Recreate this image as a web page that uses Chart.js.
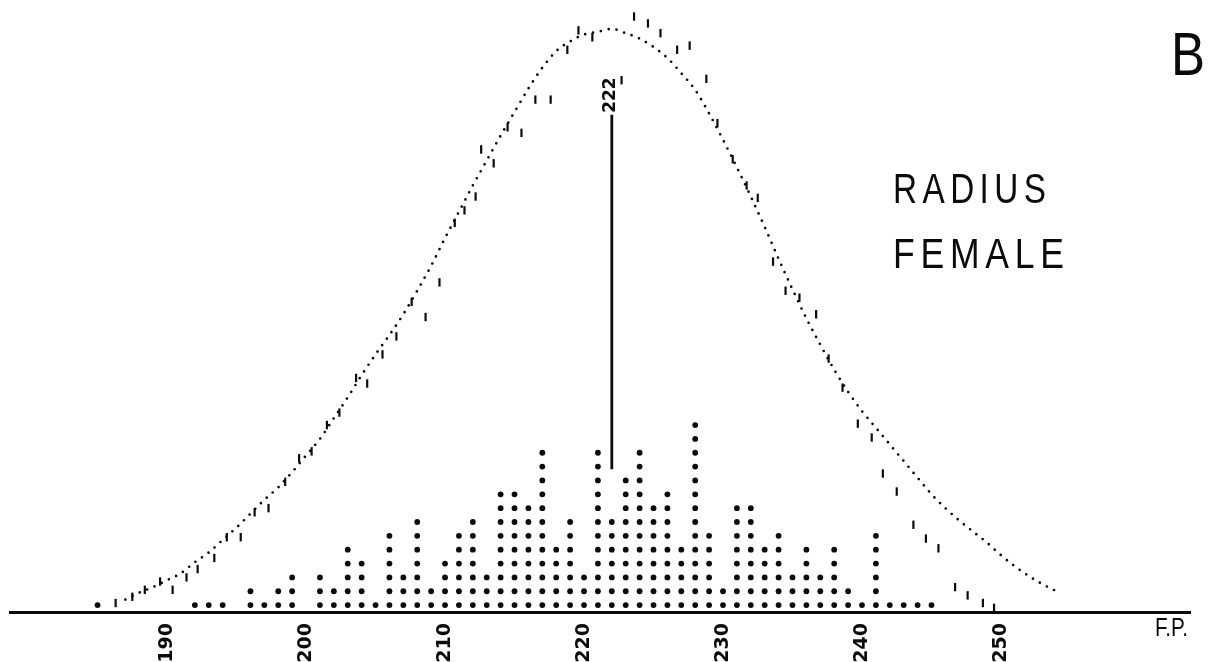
<!DOCTYPE html>
<html>
<head>
<meta charset="utf-8">
<script src="https://cdn.jsdelivr.net/npm/chart.js@4.4.1/dist/chart.umd.min.js"></script>
<style>
  html, body { margin: 0; padding: 0; background: #fff; }
  canvas { display: block; }
</style>
</head>
<body>
<canvas id="chart" width="1219" height="662"></canvas>
<script>
// Radius length (F.P.), females: number of specimens at each value, one dot each
const radiusValues = [185, 186, 187, 188, 189, 190, 191, 192, 193, 194, 195, 196, 197, 198, 199,
  200, 201, 202, 203, 204, 205, 206, 207, 208, 209, 210, 211, 212, 213, 214, 215, 216, 217, 218, 219,
  220, 221, 222, 223, 224, 225, 226, 227, 228, 229, 230, 231, 232, 233, 234, 235, 236, 237, 238, 239,
  240, 241, 242, 243, 244, 245];
const specimenCounts = [1, 0, 0, 0, 0, 0, 0, 1, 1, 1, 0, 2, 1, 2, 3,
  0, 3, 2, 5, 4, 1, 6, 3, 7, 2, 4, 6, 7, 3, 9, 9, 8, 12, 5, 7,
  3, 12, 7, 10, 12, 8, 9, 5, 14, 6, 2, 8, 8, 5, 6, 3, 5, 3, 5, 2,
  1, 6, 1, 1, 1, 1];

// Fitted frequency curve (dotted)
const curveValues = [187, 188, 189, 190, 191, 192, 193, 194, 195, 196, 197, 198, 199, 200, 201,
  202, 203, 204, 205, 206, 207, 208, 209, 210, 211, 212, 213, 214, 215, 216, 217, 218, 219, 220,
  221, 222, 223, 224, 225, 226, 227, 228, 229, 230, 231, 232, 233, 234, 235, 236, 237, 238, 239,
  240, 241, 242, 243, 244, 245, 246, 247, 248, 249, 250, 251, 252, 253, 254];
const curveHeights = [0.9, 1.4, 1.8, 2.3, 2.8, 3.6, 4.3, 5.2, 6.1, 7.1, 8.1, 9.0, 10.1, 11.3, 12.5,
  14.0, 15.5, 17.1, 18.6, 20.0, 21.5, 23.2, 25.0, 27.0, 28.9, 30.8, 32.6, 34.4, 36.1, 37.8, 39.3, 40.5, 41.2, 41.7,
  41.9, 42.1, 41.8, 41.4, 40.8, 40.0, 38.9, 37.7, 36.0, 34.1, 32.1, 30.0, 27.8, 25.5, 23.3, 21.2, 19.3, 17.5, 15.9,
  14.5, 13.3, 12.1, 10.9, 9.7, 8.5, 7.5, 6.6, 5.8, 5.0, 4.1, 3.3, 2.6, 2.0, 1.5];

// Short vertical strokes plotted along the curve
const strokeValues = [186.3, 187.5, 188.4, 189.5, 190.4, 191.4, 192.2, 193.4, 194.3, 195.3, 196.3, 197.3,
  198.5, 199.5, 200.4, 201.5, 202.4, 203.6, 204.4, 205.5, 206.5, 207.6, 208.6, 209.6, 210.7, 211.4,
  212.2, 212.6, 213.5, 214.5, 215.5, 216.5, 217.6, 218.8, 219.6, 220.6, 222.7, 223.6, 224.6, 225.5,
  226.7, 227.6, 228.8, 229.6, 230.7, 231.7, 232.5, 233.6, 234.5, 235.5, 236.7, 237.6, 238.6, 239.7,
  240.7, 241.5, 242.5, 243.7, 244.6, 245.5, 246.7, 247.6, 248.7, 249.5];
const strokeHeights = [0.65, 1.1, 1.6, 2.2, 1.6, 2.5, 3.1, 3.9, 5.4, 5.4, 7.2, 7.5,
  9.4, 11.1, 11.6, 13.5, 14.4, 16.9, 16.5, 18.6, 19.9, 22.4, 21.3, 23.8, 28.1, 29.0,
  30.0, 33.4, 32.4, 35.0, 34.6, 37.0, 37.0, 40.6, 42.0, 41.5, 38.4, 43.0, 42.5, 41.8,
  40.6, 40.9, 38.5, 35.3, 32.7, 30.8, 29.9, 25.3, 23.2, 22.7, 21.5, 18.3, 16.2, 13.6,
  12.6, 10.0, 8.7, 6.3, 5.3, 4.6, 1.8, 1.2, 0.65, 0.3];

// Mean and the span of its marker line
const meanValue = 222;
const meanLineSpan = [10.3, 35.9];

// Axis ticks
const tickValues = [190, 200, 210, 220, 230, 240, 250];
const tickLabels = ['190', '200', '210', '220', '230', '240', '250'];

const INK = '#0b0b0b';

// One dot per specimen, stacked in its column
const specimenDots = [];
radiusValues.forEach((v, i) => {
  for (let k = 1; k <= specimenCounts[i]; k++) specimenDots.push({ x: v, y: k - 0.5 });
});
const curvePoints = curveValues.map((v, i) => ({ x: v, y: curveHeights[i] }));
const strokePoints = strokeValues.map((v, i) => ({ x: v, y: strokeHeights[i] }));
const meanPoints = meanLineSpan.map(h => ({ x: meanValue, y: h }));

// Lettering: titles, axis unit and the mean label
function fittedText(ctx, text, left, baseline, width, font, spacing) {
  ctx.save();
  ctx.font = font;
  ctx.letterSpacing = spacing + 'px';
  const w = ctx.measureText(text).width - spacing;
  ctx.translate(left, baseline);
  ctx.scale(width / w, 1);
  ctx.textAlign = 'left';
  ctx.textBaseline = 'alphabetic';
  ctx.fillText(text, 0, 0);
  ctx.restore();
}

const lettering = {
  id: 'lettering',
  afterDatasetsDraw(chart) {
    const ctx = chart.ctx;
    const xs = chart.scales.x, ys = chart.scales.y;
    ctx.save();
    ctx.fillStyle = INK;
    fittedText(ctx, 'RADIUS', 893, 203, 153, '400 43px "Liberation Sans"', 7);
    fittedText(ctx, 'FEMALE', 893, 268, 171, '400 43px "Liberation Sans"', 7);
    fittedText(ctx, 'B', 1171, 75, 34, '400 62px "Liberation Sans"', 0);
    fittedText(ctx, 'F.P.', 1155, 636, 33, '400 26px "Liberation Sans"', 0);

    // mean label, written upward above the marker line
    const mx = xs.getPixelForValue(meanValue);
    const topY = ys.getPixelForValue(meanLineSpan[1]);
    ctx.translate(mx - 1, topY - 2);
    ctx.rotate(-Math.PI / 2);
    ctx.font = 'bold 17px "DejaVu Sans"';
    ctx.textAlign = 'left';
    ctx.textBaseline = 'middle';
    ctx.fillText(String(meanValue), 0, 0);
    ctx.restore();
  }
};

new Chart(document.getElementById('chart'), {
  data: {
    datasets: [
      {
        type: 'line',
        data: curvePoints,
        borderColor: INK,
        borderWidth: 2.7,
        borderDash: [0, 8],
        borderCapStyle: 'round',
        pointRadius: 0,
        cubicInterpolationMode: 'monotone',
        fill: false
      },
      {
        type: 'scatter',
        data: strokePoints,
        pointStyle: 'line',
        rotation: 90,
        pointRadius: 4.2,
        borderWidth: 2.2,
        borderColor: INK,
        backgroundColor: INK
      },
      {
        type: 'line',
        data: meanPoints,
        borderColor: INK,
        borderWidth: 2.8,
        pointRadius: 0
      },
      {
        type: 'scatter',
        data: specimenDots,
        pointStyle: 'circle',
        pointRadius: 2.9,
        borderWidth: 0,
        backgroundColor: INK
      }
    ]
  },
  options: {
    responsive: false,
    animation: false,
    events: [],
    layout: { padding: { left: 10, right: 29, top: 10, bottom: 0 } },
    plugins: { legend: { display: false }, tooltip: { enabled: false }, title: { display: false } },
    scales: {
      x: {
        type: 'linear',
        position: 'bottom',
        min: 178.7,
        max: 263.6,
        afterBuildTicks(scale) { scale.ticks = tickValues.map(v => ({ value: v })); },
        afterFit(scale) { scale.height = 50; },
        grid: { display: false, drawTicks: false },
        border: { display: true, color: INK, width: 3 },
        ticks: {
          autoSkip: false,
          minRotation: 90,
          maxRotation: 90,
          padding: 11,
          color: INK,
          font: { family: 'DejaVu Sans', weight: 'bold', size: 19 },
          callback: (value) => tickLabels[tickValues.indexOf(value)]
        }
      },
      y: {
        type: 'linear',
        display: false,
        min: 0,
        max: 43.47
      }
    }
  },
  plugins: [lettering]
});
</script>
</body>
</html>
